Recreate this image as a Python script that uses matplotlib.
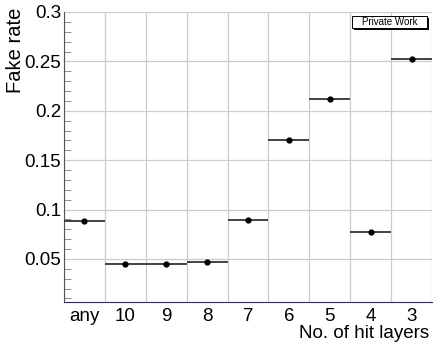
import matplotlib
matplotlib.use("Agg")
import matplotlib.pyplot as plt
from matplotlib.patches import Rectangle
from matplotlib.ticker import MultipleLocator
import numpy as np

plt.rcParams['font.family'] = ['Liberation Sans', 'DejaVu Sans']

categories = ["any", "10", "9", "8", "7", "6", "5", "4", "3"]
fake_rate = [0.088, 0.0444, 0.045, 0.047, 0.089, 0.170, 0.2118, 0.0768, 0.252]

W, H = 433, 346
fig = plt.figure(figsize=(W / 100, H / 100), dpi=100)
ax = fig.add_axes([64 / W, 1 - 302 / H, (432 - 64) / W, (302 - 12) / H])

x = np.arange(len(categories))
ax.errorbar(x, fake_rate, xerr=0.5, fmt='o', color='black', ms=3.5,
            ecolor='#333333', elinewidth=1.3, capsize=0, zorder=3)

ax.set_xlim(-0.5, len(categories) - 0.5)
ax.set_ylim(0.0064, 0.3)

ax.set_yticks([0.05, 0.1, 0.15, 0.2, 0.25, 0.3])
ax.set_yticklabels(["0.05", "0.1", "0.15", "0.2", "0.25", "0.3"], fontsize=13.5)
ax.yaxis.set_minor_locator(MultipleLocator(0.01))
ax.tick_params(axis='y', which='major', direction='in', length=0, pad=2)
ax.tick_params(axis='y', which='minor', direction='in', length=5, color='#777777')

# bin edges carry the vertical grid, bin centres carry the labels
ax.set_xticks(x)
ax.set_xticklabels(categories, fontsize=13.5)
ax.set_xticks(np.arange(-0.5, len(categories)), minor=True)
ax.tick_params(axis='x', which='both', length=0, pad=4)
ax.xaxis.grid(True, which='minor', color='#cccccc', lw=0.9)
ax.yaxis.grid(True, which='major', color='#cccccc', lw=0.9)
ax.set_axisbelow(True)

for s in ['top', 'right']:
    ax.spines[s].set_visible(False)
ax.spines['left'].set_color('#555555')
ax.spines['bottom'].set_color('#2a2a6a')

ax.set_ylabel("Fake rate", fontsize=14.5, loc='top')
ax.yaxis.set_label_coords((25 - 64) / 368, (302 - 8) / 290)
fig.text(429 / W, 1 - 337.5 / H, "No. of hit layers", fontsize=13.5,
         ha='right', va='baseline')

# "Private Work" label box with a drop shadow
bx0, bx1, by0, by1 = 352, 427, 16, 28
fig.add_artist(Rectangle((bx0 / W + 2 / W, 1 - (by1 + 2) / H),
                         (bx1 - bx0) / W, (by1 - by0) / H,
                         transform=fig.transFigure, fc='black', ec='none', lw=0))
fig.add_artist(Rectangle((bx0 / W, 1 - by1 / H), (bx1 - bx0) / W, (by1 - by0) / H,
                         transform=fig.transFigure, fc='white', ec='black', lw=0.7))
fig.text((bx0 + bx1) / 2 / W, 1 - (by0 + by1) / 2 / H, "Private Work",
         fontsize=7, ha='center', va='center')

fig.savefig("out.png", dpi=100)
